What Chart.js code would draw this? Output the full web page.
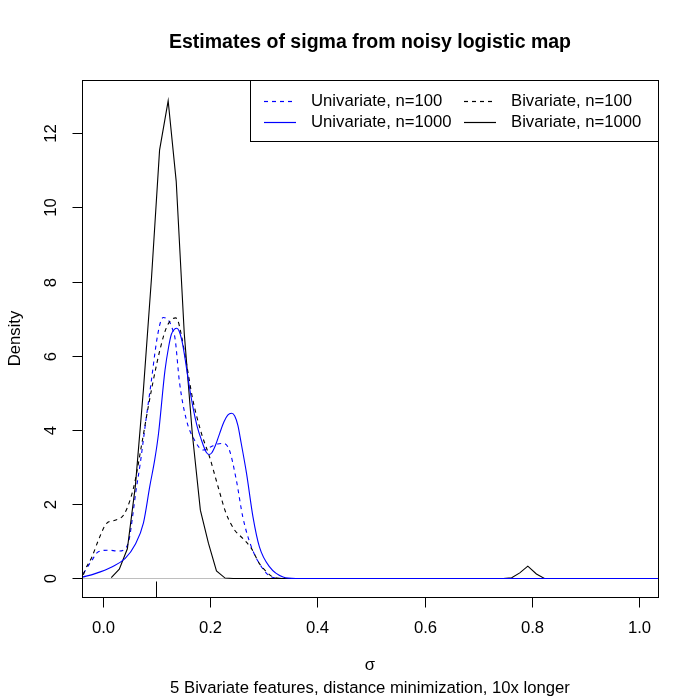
<!DOCTYPE html>
<html>
<head>
<meta charset="utf-8">
<script src="https://cdn.jsdelivr.net/npm/chart.js@4/dist/chart.umd.min.js"></script>
<style>
html,body{margin:0;padding:0;background:#fff;}
#wrap{width:700px;height:700px;position:relative;}
</style>
</head>
<body>
<div id="wrap"><canvas id="c" width="700" height="700"></canvas></div>
<script>
// ---- data ----
const uni100X = [-0.036,-0.020,-0.008,0.011,0.029,0.042,0.050,0.056,0.062,0.070,0.080,0.090,0.100,0.105,0.109,0.113,0.118,0.125,0.130,0.135,0.143,0.156,0.171,0.187,0.202,0.214,0.224,0.236,0.249,0.261,0.277,0.296,0.314,0.335];
const uni100Y = [0.13,0.49,0.72,0.76,0.74,0.80,1.10,1.70,2.35,3.10,4.20,5.25,6.35,6.75,6.96,7.03,7.01,6.90,6.72,6.45,5.30,4.27,3.73,3.46,3.55,3.62,3.64,3.46,2.65,1.66,0.85,0.31,0.04,0.0];

const uni1000X = [-0.039,-0.014,0.017,0.042,0.060,0.076,0.088,0.097,0.104,0.116,0.123,0.128,0.134,0.138,0.142,0.148,0.153,0.160,0.168,0.176,0.184,0.193,0.198,0.203,0.210,0.218,0.226,0.233,0.240,0.246,0.252,0.258,0.268,0.280,0.292,0.311,0.336,0.360,1.035];
const uni1000Y = [0.03,0.13,0.31,0.54,0.90,1.50,2.50,3.20,3.90,5.60,6.25,6.58,6.72,6.74,6.68,6.38,5.97,5.30,4.63,4.10,3.73,3.40,3.34,3.38,3.58,3.91,4.22,4.40,4.45,4.38,4.12,3.65,2.83,1.66,0.85,0.31,0.04,0.0,0.0];

const biv100X = [-0.036,-0.033,-0.020,-0.008,0.007,0.023,0.039,0.051,0.060,0.073,0.085,0.101,0.113,0.120,0.125,0.131,0.136,0.140,0.146,0.156,0.168,0.184,0.199,0.215,0.230,0.246,0.261,0.277,0.292,0.305,0.317,0.335];
const biv100Y = [0.10,0.22,0.58,1.03,1.48,1.57,1.71,2.11,2.60,3.64,4.63,5.80,6.51,6.80,6.92,7.00,7.02,6.95,6.60,5.80,4.81,3.91,3.28,2.47,1.75,1.30,1.08,0.81,0.40,0.18,0.04,0.0];

const biv1000X = [0.016,0.031,0.046,0.061,0.076,0.091,0.106,0.122,0.137,0.152,0.167,0.182,0.197,0.212,0.228,0.243,0.746,0.762,0.777,0.792,0.808,0.823,0.838,1.0];
const biv1000Y = [0.02,0.25,0.80,2.50,5.10,8.10,11.54,12.87,10.70,6.60,3.90,1.84,0.95,0.20,0.01,0.0,0.0,0.02,0.15,0.33,0.12,0.0,0.0,0.0];

const rugValues = [0.1];
const xTicks = [0, 0.2, 0.4, 0.6, 0.8, 1.0];
const xTickLabels = ["0.0","0.2","0.4","0.6","0.8","1.0"];
const yTicks = [0, 2, 4, 6, 8, 10, 12];
const yTickLabels = ["0","2","4","6","8","10","12"];

const titleText = "Estimates of sigma from noisy logistic map";
const xLabel = "σ";
const subText = "5 Bivariate features, distance minimization, 10x longer";
const yLabel = "Density";
const legendLabels = ["Univariate, n=100","Univariate, n=1000","Bivariate, n=100","Bivariate, n=1000"];

function pts(xs, ys){ return xs.map((x,i)=>({x:x, y:ys[i]})); }

const FONT = '"Liberation Sans", Arial, Helvetica, sans-serif';
const BLUE = '#0000FF';

const rPlot = {
  id: 'rPlot',
  beforeDatasetsDraw(chart){
    const ctx = chart.ctx, a = chart.chartArea, xs = chart.scales.x, ys = chart.scales.y;
    ctx.save();
    const y0 = Math.round(ys.getPixelForValue(0)) + 0.5;
    ctx.strokeStyle = '#BEBEBE';
    ctx.lineWidth = 1;
    ctx.beginPath(); ctx.moveTo(a.left, y0); ctx.lineTo(a.right, y0); ctx.stroke();
    ctx.strokeStyle = '#000';
    const rugLen = 0.03 * (a.bottom - a.top);
    rugValues.forEach(v => {
      const px = Math.round(xs.getPixelForValue(v)) + 0.5;
      ctx.beginPath(); ctx.moveTo(px, a.bottom); ctx.lineTo(px, a.bottom - rugLen); ctx.stroke();
    });
    ctx.restore();
  },
  afterDraw(chart){
    const ctx = chart.ctx, a = chart.chartArea, xs = chart.scales.x, ys = chart.scales.y;
    ctx.save();
    ctx.strokeStyle = '#000'; ctx.fillStyle = '#000'; ctx.lineWidth = 1;
    const L = Math.round(a.left)+0.5, R = Math.round(a.right)+0.5, T = Math.round(a.top)+0.5, B = Math.round(a.bottom)+0.5;
    ctx.strokeRect(L, T, R-L, B-T);
    ctx.font = '16.7px ' + FONT;
    ctx.textAlign = 'center'; ctx.textBaseline = 'middle';
    xTicks.forEach((v,i) => {
      const px = Math.round(xs.getPixelForValue(v)) + 0.5;
      ctx.beginPath(); ctx.moveTo(px, B); ctx.lineTo(px, B + 10); ctx.stroke();
      ctx.fillText(xTickLabels[i], px, B + 31);
    });
    yTicks.forEach((v,i) => {
      const py = Math.round(ys.getPixelForValue(v)) + 0.5;
      ctx.beginPath(); ctx.moveTo(L, py); ctx.lineTo(L - 10, py); ctx.stroke();
      ctx.save(); ctx.translate(L - 31, py); ctx.rotate(-Math.PI/2);
      ctx.fillText(yTickLabels[i], 0, 0); ctx.restore();
    });
    ctx.font = 'bold 19.5px ' + FONT;
    const cx = (a.left + a.right)/2;
    ctx.fillText(titleText, cx, 43);
    ctx.font = '16.7px ' + FONT;
    ctx.fillText(xLabel, cx, 665);
    ctx.fillText(subText, cx, 688);
    ctx.save(); ctx.translate(15, (a.top + a.bottom)/2); ctx.rotate(-Math.PI/2);
    ctx.fillText(yLabel, 0, 0); ctx.restore();
    // legend
    const lx = 250.5, ly = T, lw = R - lx, lh = 61;
    ctx.fillStyle = '#fff';
    ctx.fillRect(lx, ly, lw, lh);
    ctx.strokeStyle = '#000';
    ctx.strokeRect(lx, ly, lw, lh);
    const items = [
      {lab: legendLabels[0], col: BLUE, dash: [4,4], x: 264, y: 101.5},
      {lab: legendLabels[1], col: BLUE, dash: [], x: 264, y: 122.5},
      {lab: legendLabels[2], col: '#000', dash: [4,4], x: 464, y: 101.5},
      {lab: legendLabels[3], col: '#000', dash: [], x: 464, y: 122.5}
    ];
    ctx.textAlign = 'left';
    items.forEach(it => {
      ctx.save();
      ctx.strokeStyle = it.col; ctx.lineWidth = 1.2; ctx.setLineDash(it.dash);
      ctx.beginPath(); ctx.moveTo(it.x, it.y); ctx.lineTo(it.x + 32, it.y); ctx.stroke();
      ctx.restore();
      ctx.fillStyle = '#000';
      ctx.fillText(it.lab, it.x + 47, it.y);
    });
    ctx.restore();
  }
};

new Chart(document.getElementById('c'), {
  type: 'line',
  data: {
    datasets: [
      {label: legendLabels[1], data: pts(uni1000X, uni1000Y), borderColor: BLUE, borderWidth: 1.1, cubicInterpolationMode: 'monotone', pointRadius: 0, fill: false},
      {label: legendLabels[3], data: pts(biv1000X, biv1000Y), borderColor: '#000', borderWidth: 1.1, tension: 0, pointRadius: 0, fill: false},
      {label: legendLabels[2], data: pts(biv100X, biv100Y), borderColor: '#000', borderWidth: 1.1, borderDash: [4,4], cubicInterpolationMode: 'monotone', pointRadius: 0, fill: false},
      {label: legendLabels[0], data: pts(uni100X, uni100Y), borderColor: BLUE, borderWidth: 1.1, borderDash: [4,4], cubicInterpolationMode: 'monotone', pointRadius: 0, fill: false}
    ]
  },
  options: {
    responsive: false,
    animation: false,
    layout: {padding: {left: 82, right: 42, top: 80, bottom: 103}},
    plugins: {legend: {display: false}, tooltip: {enabled: false}, title: {display: false}},
    scales: {
      x: {type: 'linear', min: -0.0385, max: 1.0345, display: false},
      y: {type: 'linear', min: -0.50, max: 13.43, display: false}
    }
  },
  plugins: [rPlot]
});
</script>
</body>
</html>
